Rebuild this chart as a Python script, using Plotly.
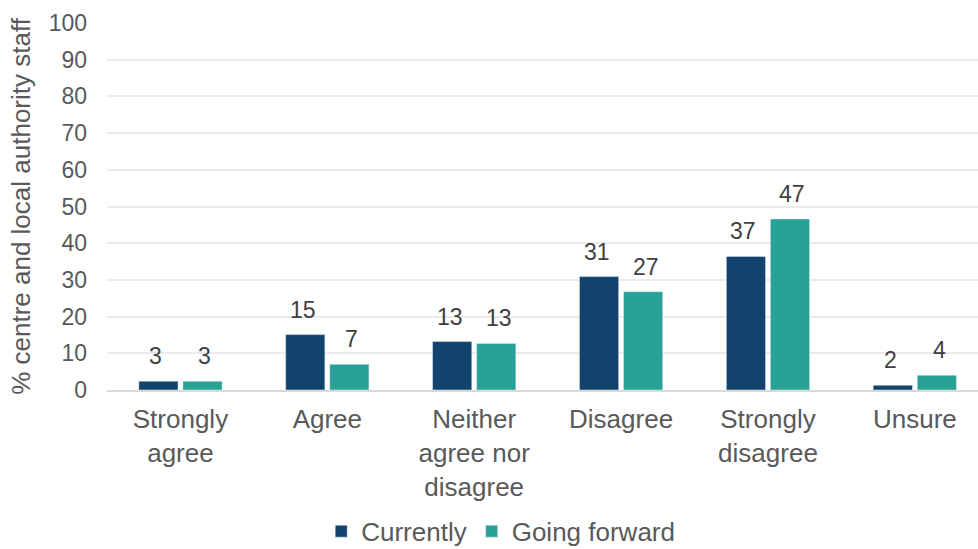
import plotly.graph_objects as go

categories = ["Strongly<br>agree", "Agree", "Neither<br>agree nor<br>disagree", "Disagree", "Strongly<br>disagree", "Unsure"]
currently = [2.4, 15.1, 13.2, 30.9, 36.4, 1.3]
going_forward = [2.4, 7.0, 12.7, 26.8, 46.6, 4.0]
currently_labels = ["3", "15", "13", "31", "37", "2"]
going_forward_labels = ["3", "7", "13", "27", "47", "4"]
y_ticks = [0, 10, 20, 30, 40, 50, 60, 70, 80, 90, 100]

DARK = "#12436D"
TEAL = "#28A197"
FONT = "Liberation Sans"

fig = go.Figure()
fig.add_trace(go.Bar(name="Currently", x=categories, y=currently, marker_color=DARK))
fig.add_trace(go.Bar(name="Going forward", x=categories, y=going_forward, marker_color=TEAL))

annotations = []
for cat, v, lab in zip(categories, currently, currently_labels):
    annotations.append(dict(x=cat, y=v, text=lab, showarrow=False, xshift=-24.5, yshift=25,
                            yanchor="middle", font=dict(size=23, color="#404040", family=FONT)))
for cat, v, lab in zip(categories, going_forward, going_forward_labels):
    annotations.append(dict(x=cat, y=v, text=lab, showarrow=False, xshift=24.5, yshift=25,
                            yanchor="middle", font=dict(size=23, color="#404040", family=FONT)))

fig.update_layout(
    width=978, height=549,
    margin=dict(l=107, r=0, t=23, b=159, autoexpand=False),
    paper_bgcolor="white", plot_bgcolor="white",
    barmode="group", bargap=0.40, bargroupgap=0.11,
    font=dict(family=FONT, size=23, color="#595959"),
    showlegend=True,
    legend=dict(orientation="h", x=0.452, xanchor="center", xref="paper", y=-0.385, yanchor="middle",
                font=dict(size=26, color="#595959", family=FONT), traceorder="normal",
                itemwidth=30, tracegroupgap=0),
    annotations=annotations,
)
fig.update_xaxes(range=[-0.5, 5.43], showgrid=False, showline=True, linecolor="#D9D9D9", linewidth=2,
                 ticks="", automargin=False, tickfont=dict(size=26, color="#595959", family=FONT), ticklabelstandoff=5)
fig.update_yaxes(range=[0, 100], tickvals=y_ticks, showgrid=True, gridcolor="#EBEBEB", gridwidth=1.5,
                 zeroline=False, showline=False, automargin=False, ticklabelstandoff=19,
                 tickfont=dict(size=23, color="#595959", family=FONT),
                 title=dict(text="% centre and local authority staff", font=dict(size=26, color="#595959", family=FONT), standoff=10))

fig.write_html("out.html")
